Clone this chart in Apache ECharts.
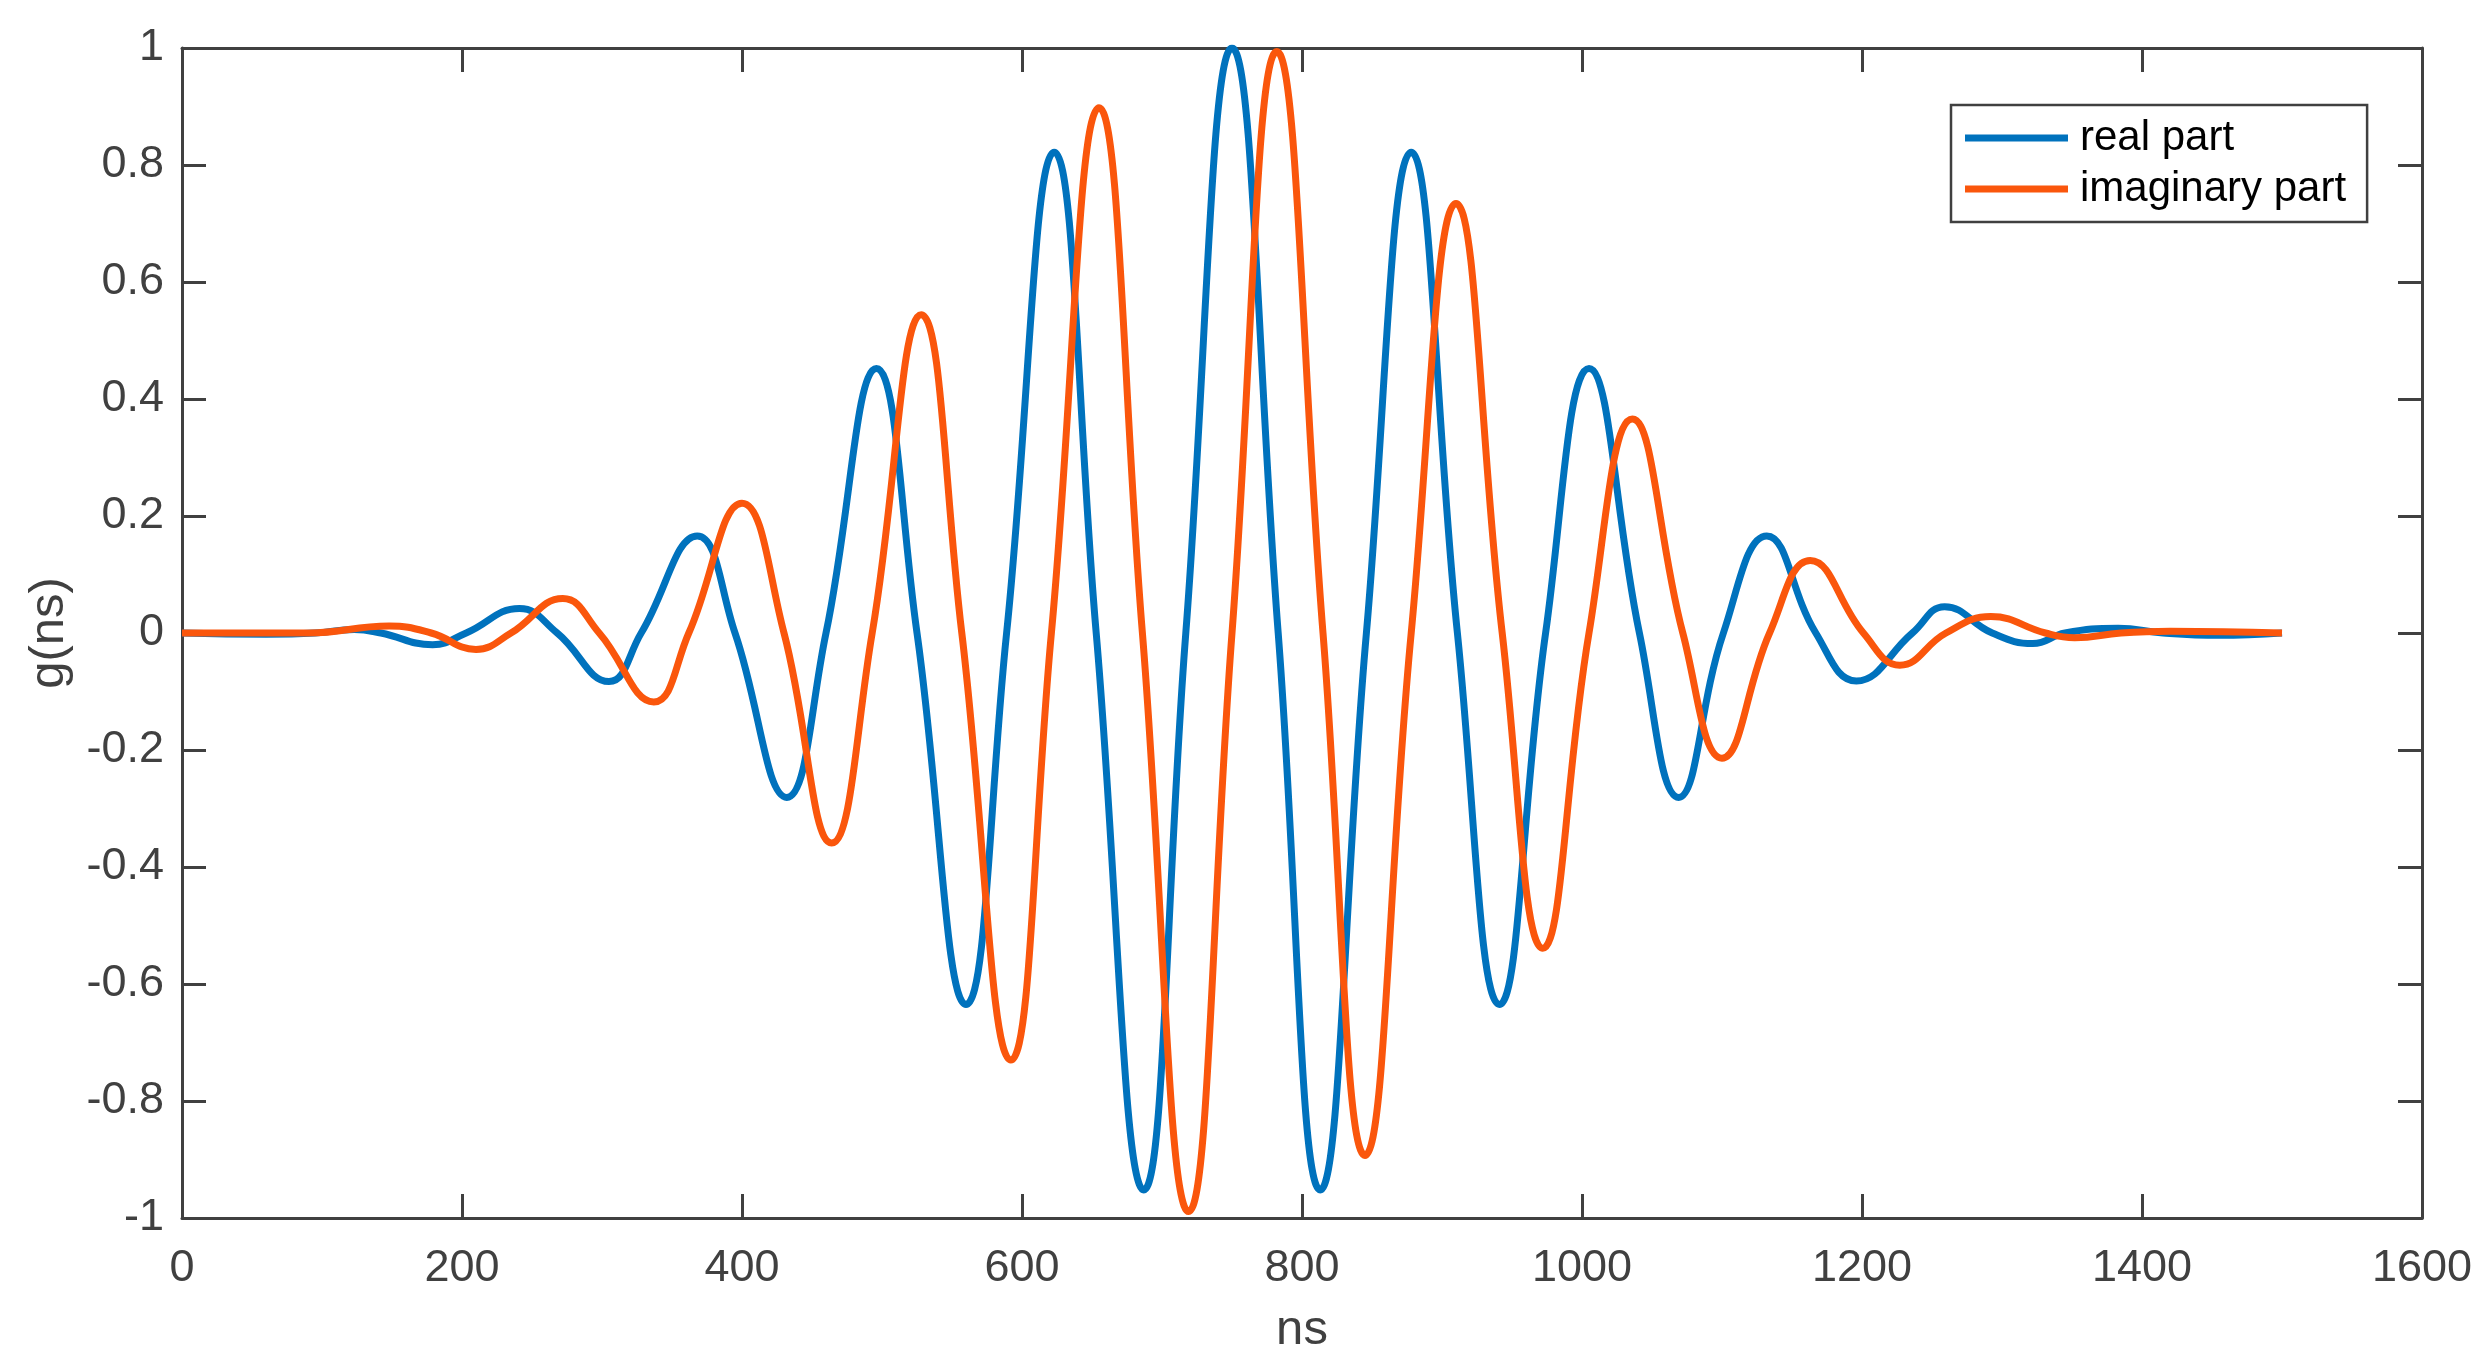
<!DOCTYPE html>
<html>
<head>
<meta charset="utf-8">
<script src="https://cdn.jsdelivr.net/npm/echarts@6/dist/echarts.min.js"></script>
<style>
  html, body { margin: 0; padding: 0; background: #fff; }
  #chart { width: 2492px; height: 1372px; }
</style>
</head>
<body>
<div id="chart"></div>
<script>
// values: [ns, g]
const seriesNames = ['real part', 'imaginary part']
const realPart = [
  [0, 0], [60, -0.002], [95, 0], [123, 0.006], [142, 0], [179, -0.02], [203, 0],
  [241, 0.042], [268, 0], [305, -0.083], [328, 0], [368, 0.166], [395, 0],
  [432, -0.281], [460, 0], [496, 0.452], [525, 0], [560, -0.635], [589, 0],
  [623, 0.822], [653, 0], [687, -0.952], [717, 0], [750, 1.0], [783, 0],
  [813, -0.952], [846, 0], [878, 0.822], [911, 0], [941, -0.635], [974, 0],
  [1005, 0.452], [1041, 0], [1069, -0.281], [1101, 0], [1132, 0.166], [1167, 0],
  [1196, -0.082], [1236, 0], [1259, 0.045], [1293, 0], [1322, -0.018], [1345, 0],
  [1383, 0.008], [1415, 0], [1455, -0.004], [1500, 0]
]
const imagPart = [
  [0, 0], [90, 0], [148, 0.012], [178, 0], [210, -0.028], [235, 0],
  [272, 0.059], [298, 0], [337, -0.118], [362, 0], [400, 0.222], [430, 0],
  [464, -0.359], [493, 0], [528, 0.544], [557, 0], [592, -0.73], [621, 0],
  [655, 0.898], [686, 0], [719, -0.989], [750, 0], [782, 0.994], [815, 0],
  [845, -0.893], [878, 0], [910, 0.734], [943, 0], [972, -0.539], [1005, 0],
  [1036, 0.366], [1072, 0], [1100, -0.214], [1134, 0], [1163, 0.124], [1201, 0],
  [1227, -0.055], [1260, 0], [1292, 0.028], [1331, 0], [1352, -0.008], [1385, 0],
  [1420, 0.003], [1500, 0]
]
const colors = ['#0072BD', '#FA560C']

const axisColor = '#404040'
const font = 'Liberation Sans, Arial, Helvetica, sans-serif'

const chart = echarts.init(document.getElementById('chart'))

function frameAxis (pos, min, max, interval) {
  return {
    type: 'value',
    position: pos,
    min: min,
    max: max,
    interval: interval,
    axisLine: { show: true, onZero: false, lineStyle: { color: axisColor, width: 3 } },
    axisTick: { show: true, inside: true, length: 24, lineStyle: { color: axisColor, width: 3 } },
    axisLabel: { show: false },
    splitLine: { show: false }
  }
}

chart.setOption({
  animation: false,
  backgroundColor: '#fff',
  color: colors,
  grid: { left: 182, right: 70, top: 48, bottom: 154 },
  legend: {
    orient: 'vertical',
    left: 1951,
    top: 105,
    padding: [11, 21, 11, 14],
    itemGap: 7,
    itemWidth: 103,
    itemHeight: 7,
    icon: 'rect',
    borderColor: axisColor,
    borderWidth: 2.5,
    backgroundColor: '#fff',
    textStyle: { color: '#000', fontSize: 42, fontFamily: font, lineHeight: 44, padding: [0, 0, 0, 7] },
    data: seriesNames
  },
  xAxis: [
    {
      type: 'value',
      min: 0,
      max: 1600,
      interval: 200,
      name: 'ns',
      nameLocation: 'middle',
      nameGap: 88,
      nameTextStyle: { color: axisColor, fontSize: 49, fontFamily: font },
      axisLine: { show: true, onZero: false, lineStyle: { color: axisColor, width: 3 } },
      axisTick: { show: true, inside: true, length: 24, lineStyle: { color: axisColor, width: 3 } },
      axisLabel: { color: axisColor, fontSize: 45, fontFamily: font, margin: 28, formatter: v => String(v) },
      splitLine: { show: false }
    },
    frameAxis('top', 0, 1600, 200)
  ],
  yAxis: [
    {
      type: 'value',
      min: -1,
      max: 1,
      interval: 0.2,
      name: 'g(ns)',
      nameLocation: 'middle',
      nameGap: 108,
      nameTextStyle: { color: axisColor, fontSize: 49, fontFamily: font },
      axisLine: { show: true, onZero: false, lineStyle: { color: axisColor, width: 3 } },
      axisTick: { show: true, inside: true, length: 24, lineStyle: { color: axisColor, width: 3 } },
      axisLabel: { color: axisColor, fontSize: 45, fontFamily: font, margin: 18 },
      splitLine: { show: false }
    },
    frameAxis('right', -1, 1, 0.2)
  ],
  series: [
    {
      name: seriesNames[0],
      type: 'line',
      data: realPart,
      smooth: 0.45,
      showSymbol: false,
      lineStyle: { width: 7 },
      z: 3
    },
    {
      name: seriesNames[1],
      type: 'line',
      data: imagPart,
      smooth: 0.45,
      showSymbol: false,
      lineStyle: { width: 7 },
      z: 4
    }
  ]
})
</script>
</body>
</html>
